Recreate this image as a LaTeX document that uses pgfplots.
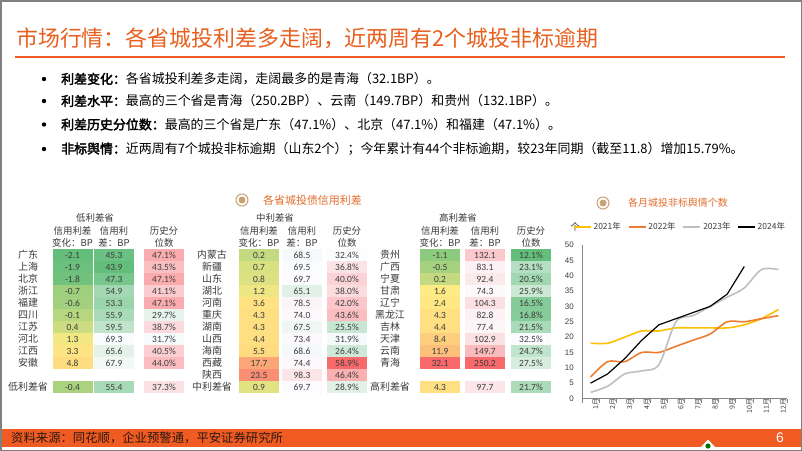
\documentclass[border=0pt]{standalone}
\usepackage{pgfplots}
\pgfplotsset{compat=1.18}
\usepackage{pgfplotstable}
\usepackage{fontspec}
\setmainfont{Liberation Sans}
\newfontfamily\cjk{Noto Sans CJK SC}
\newfontfamily\cjkb{Noto Sans CJK SC}[FakeBold=2.5]
\newfontfamily\cali{Carlito}
\definecolor{psorange}{RGB}{240,90,35}
\definecolor{titleorange}{RGB}{232,96,30}
\definecolor{secorange}{RGB}{228,110,45}
\definecolor{tanc}{RGB}{200,162,118}
\definecolor{axgray}{RGB}{134,134,134}
\definecolor{txtgray}{RGB}{60,60,60}
\definecolor{c21}{RGB}{255,192,0}
\definecolor{c22}{RGB}{237,125,49}
\definecolor{c23}{RGB}{191,191,191}

\pgfdeclareplotmark{cell}{\pgfpathrectangle{\pgfpoint{-20bp}{-6.1bp}}{\pgfpoint{40bp}{12.2bp}}\pgfusepathqfill}

\pgfplotsset{
 colormap={cmchg}{rgb255(0pt)=(99,190,123) rgb255(37pt)=(255,235,132) rgb255(342pt)=(248,105,107)},
 colormap={cmspr}{rgb255(0pt)=(99,190,123) rgb255(258pt)=(252,252,255) rgb255(2063pt)=(248,105,107)},
 colormap={cmpct}{rgb255(0pt)=(99,190,123) rgb255(204pt)=(252,252,255) rgb255(468pt)=(248,105,107)},
}

% credit spread change (BP)
\pgfplotstableread{
x y v
72.5 0 -2.1
72.5 1 -1.9
72.5 2 -1.8
72.5 3 -0.7
72.5 4 -0.6
72.5 5 -0.1
72.5 6 0.4
72.5 7 1.3
72.5 8 3.3
72.5 9 4.8
72.5 11 -0.4
259 0 0.2
259 1 0.7
259 2 0.8
259 3 1.2
259 4 3.6
259 5 4.3
259 6 4.3
259 7 4.4
259 8 5.5
259 9 17.7
259 10 23.5
259 11 0.9
440 0 -1.1
440 1 -0.5
440 2 0.2
440 3 1.6
440 4 2.4
440 5 4.3
440 6 4.4
440 7 8.4
440 8 11.9
440 9 32.1
440 11 4.3
}\tchg

% credit spread (BP)
\pgfplotstableread{
x y v
114 0 45.3
114 1 43.9
114 2 47.3
114 3 54.9
114 4 53.3
114 5 55.9
114 6 59.5
114 7 69.3
114 8 65.6
114 9 67.9
114 11 55.4
302 0 68.5
302 1 69.5
302 2 69.7
302 3 65.1
302 4 78.5
302 5 74.0
302 6 67.5
302 7 73.4
302 8 68.6
302 9 74.4
302 10 98.3
302 11 69.7
485 0 132.1
485 1 83.1
485 2 92.4
485 3 74.3
485 4 104.3
485 5 82.8
485 6 77.4
485 7 102.9
485 8 149.7
485 9 250.2
485 11 97.7
}\tspr

% historical percentile (%)
\pgfplotstableread{
x y v
164 0 47.1
164 1 43.5
164 2 47.1
164 3 41.1
164 4 47.1
164 5 29.7
164 6 38.7
164 7 31.7
164 8 40.5
164 9 44.0
164 11 37.3
347 0 32.4
347 1 36.8
347 2 40.0
347 3 38.0
347 4 42.0
347 5 43.6
347 6 25.5
347 7 31.9
347 8 26.4
347 9 58.9
347 10 46.4
347 11 28.9
531 0 12.1
531 1 23.1
531 2 20.5
531 3 25.9
531 4 16.5
531 5 16.8
531 6 21.5
531 7 32.5
531 8 24.7
531 9 27.5
531 11 21.7
}\tpct

\pgfplotstableread{
x y name
28 0 广东
28 1 上海
28 2 北京
28 3 浙江
28 4 福建
28 5 四川
28 6 江苏
28 7 河北
28 8 江西
28 9 安徽
28 11 低利差省
212 0 内蒙古
212 1 新疆
212 2 山东
212 3 湖北
212 4 河南
212 5 重庆
212 6 湖南
212 7 山西
212 8 海南
212 9 西藏
212 10 陕西
212 11 中利差省
390 0 贵州
390 1 广西
390 2 宁夏
390 3 甘肃
390 4 辽宁
390 5 黑龙江
390 6 吉林
390 7 天津
390 8 云南
390 9 青海
390 11 高利差省
}\tnames

\newcommand\hdr[3]{\node[font=\cjk\fontsize{9.5}{9.5}\selectfont, text=txtgray, inner sep=0pt] at (#1bp,-#2bp) {#3};}
\newcommand\icon[2]{\draw[tanc, line width=1bp, fill=white] (#1bp,-#2bp) circle (6bp); \fill[tanc] (#1bp,-#2bp) circle (3.5bp);}

\begin{document}
\begin{tikzpicture}
\useasboundingbox (0,0) rectangle (802bp,-451bp);
\fill[white] (0,0) rectangle (802bp,-451bp);
% title
\node[anchor=west, inner sep=0pt, font=\cjk\fontsize{22}{22}\selectfont, text=titleorange] at (16bp,-38bp) {市场行情：各省城投利差多走阔，近两周有2个城投非标逾期};
\draw[psorange, line width=1.6bp] (15bp,-57bp) -- (785bp,-57bp);
% bullets
\foreach \yy in {79,101,124.5,149} {\fill[black] (44bp,-\yy bp) circle (2.2bp);}
\node[anchor=west, inner sep=0pt, font=\cjk\fontsize{13}{13}\selectfont] at (61bp,-79bp) {{\cjkb 利差变化：}各省城投利差多走阔，走阔最多的是青海（32.1BP）。};
\node[anchor=west, inner sep=0pt, font=\cjk\fontsize{13}{13}\selectfont] at (61bp,-101bp) {{\cjkb 利差水平：}最高的三个省是青海（250.2BP）、云南（149.7BP）和贵州（132.1BP）。};
\node[anchor=west, inner sep=0pt, font=\cjk\fontsize{13}{13}\selectfont] at (61bp,-124.5bp) {{\cjkb 利差历史分位数：}最高的三个省是广东（47.1\%）、北京（47.1\%）和福建（47.1\%）。};
\node[anchor=west, inner sep=0pt, font=\cjk\fontsize{13}{13}\selectfont] at (61bp,-149bp) {{\cjkb 非标舆情：}近两周有7个城投非标逾期（山东2个）；今年累计有44个非标逾期，较23年同期（截至11.8）增加15.79\%。};
% section headers
\icon{242}{200}
\node[anchor=west, inner sep=0pt, font=\cjk\fontsize{11}{11}\selectfont, text=secorange] at (263bp,-200bp) {各省城投债信用利差};
\icon{603}{203}
\node[anchor=west, inner sep=0pt, font=\cjk\fontsize{10}{10}\selectfont, text=secorange] at (628bp,-203bp) {各月城投非标舆情个数};

% tables
\begin{axis}[at={(0bp,-249bp)}, anchor=north west, x=1bp, y=12bp, y dir=reverse,
  xmin=0, xmax=560, ymin=-0.5, ymax=11.5, hide axis, clip=false, point meta rel=per plot]
\addplot[scatter, only marks, mark=cell, colormap name=cmchg, point meta=explicit,
  scatter/use mapped color={draw=mapped color, fill=mapped color},
  nodes near coords*={\pgfmathprintnumber[fixed,fixed zerofill,precision=1,assume math mode=true]{\pgfplotspointmeta}},
  nodes near coords align=center,
  every node near coord/.append style={font=\cali\fontsize{9.5}{9.5}\selectfont, text=txtgray, anchor=center, inner sep=0pt}]
  table[x=x,y=y,meta=v]{\tchg};
\addplot[scatter, only marks, mark=cell, colormap name=cmspr, point meta=explicit,
  scatter/use mapped color={draw=mapped color, fill=mapped color},
  nodes near coords*={\pgfmathprintnumber[fixed,fixed zerofill,precision=1,assume math mode=true]{\pgfplotspointmeta}},
  nodes near coords align=center,
  every node near coord/.append style={font=\cali\fontsize{9.5}{9.5}\selectfont, text=txtgray, anchor=center, inner sep=0pt}]
  table[x=x,y=y,meta=v]{\tspr};
\addplot[scatter, only marks, mark=cell, colormap name=cmpct, point meta=explicit,
  scatter/use mapped color={draw=mapped color, fill=mapped color},
  nodes near coords*={\pgfmathprintnumber[fixed,fixed zerofill,precision=1,assume math mode=true]{\pgfplotspointmeta}\%},
  nodes near coords align=center,
  every node near coord/.append style={font=\cali\fontsize{9.5}{9.5}\selectfont, text=txtgray, anchor=center, inner sep=0pt}]
  table[x=x,y=y,meta=v]{\tpct};
\addplot[only marks, mark=none, point meta=explicit symbolic, nodes near coords,
  nodes near coords align=center,
  every node near coord/.append style={font=\cjk\fontsize{10}{10}\selectfont, text=txtgray, anchor=center, inner sep=0pt}]
  table[x=x,y=y,meta=name]{\tnames};
\end{axis}
% table headers
\hdr{95}{218}{低利差省}
\hdr{72.5}{231}{信用利差}\hdr{72.5}{243}{变化：BP}
\hdr{114}{231}{信用利}\hdr{114}{243}{差：BP}
\hdr{164}{231}{历史分}\hdr{164}{243}{位数}
\hdr{275}{218}{中利差省}
\hdr{259}{231}{信用利差}\hdr{259}{243}{变化：BP}
\hdr{302}{231}{信用利}\hdr{302}{243}{差：BP}
\hdr{347}{231}{历史分}\hdr{347}{243}{位数}
\hdr{458}{218}{高利差省}
\hdr{440}{231}{信用利差}\hdr{440}{243}{变化：BP}
\hdr{485}{231}{信用利}\hdr{485}{243}{差：BP}
\hdr{531}{231}{历史分}\hdr{531}{243}{位数}

% line chart
\node[inner sep=0pt, font=\cjk\fontsize{9.5}{9.5}\selectfont, text=txtgray] at (575bp,-227bp) {个};
\begin{axis}[at={(582bp,-398.5bp)}, anchor=south west, scale only axis, width=205bp, height=153.5bp,
  xmin=0.5, xmax=12.5, ymin=0, ymax=50,
  axis x line*=bottom, axis y line*=left,
  axis line style={draw=axgray, line width=0.7bp},
  xtick={1,...,12}, xticklabels={1月,2月,3月,4月,5月,6月,7月,8月,9月,10月,11月,12月},
  minor xtick={0.5,1.5,...,12.5},
  ytick={0,5,...,50},
  major tick length=0pt, minor tick length=4bp, tick align=outside,
  minor tick style={draw=axgray, line width=0.6bp},
  xticklabel style={rotate=90, anchor=east, font=\cjk\fontsize{7}{7}\selectfont, text=txtgray, inner sep=0pt, xshift=0bp, yshift=-5bp},
  yticklabel style={font=\fontsize{8}{8}\selectfont, text=txtgray, inner sep=0pt, xshift=-8bp},
  /pgf/number format/assume math mode=true,
  legend columns=4,
  legend style={draw=none, fill=none, at={(axis description cs:0.478,1.117)}, anchor=center,
    font=\cjk\fontsize{8.5}{8.5}\selectfont, text=txtgray, inner sep=0pt,
    /tikz/every even column/.append style={column sep=5bp}},
  legend image code/.code={\draw[#1] (0bp,0bp) -- (17bp,0bp);},
]
\addplot[c21, line width=1.6bp, smooth, tension=0.5] coordinates {(1,18)(2,18)(3,20)(4,22)(5,22)(6,23)(7,23)(8,23)(9,23)(10,24)(11,26)(12,29)};
\addplot[c22, line width=1.6bp, smooth, tension=0.5] coordinates {(1,7)(2,12)(3,12)(4,15)(5,15)(6,17)(7,19)(8,21)(9,25)(10,25)(11,26)(12,27)};
\addplot[c23, line width=1.6bp, smooth, tension=0.5] coordinates {(1,2)(2,4)(3,8)(4,9)(5,11)(6,25)(7,27)(8,30)(9,33)(10,36)(11,42)(12,42)};
\addplot[black, line width=1.2bp] coordinates {(1,5)(2,8)(3,13)(4,19)(5,24)(6,26)(7,28)(8,30)(9,34)(10,43)};
\legend{2021年,2022年,2023年,2024年}
\end{axis}

% footer
\fill[psorange] (0,-429bp) rectangle (802bp,-447bp);
\node[anchor=west, inner sep=0pt, font=\cjk\fontsize{12.4}{12.4}\selectfont, text={rgb,255:red,45;green,25;blue,15}] at (11bp,-438bp) {资料来源：同花顺，企业预警通，平安证券研究所};
\node[inner sep=0pt, text=white, font=\fontsize{14}{14}\selectfont] at (780bp,-438bp) {6};
\fill[white] (701bp,-447bp) -- (715bp,-447bp) -- (708bp,-439.5bp) -- cycle;
\fill[green!45!black] (708bp,-446bp) circle (2.6bp);
\draw[gray, line width=1.5bp] (0.75bp,-0.75bp) rectangle (801.25bp,-450.25bp);
\end{tikzpicture}
\end{document}
